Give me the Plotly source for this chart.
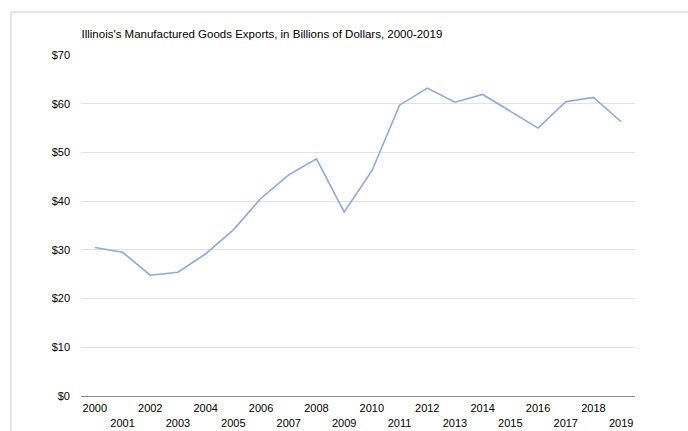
import plotly.graph_objects as go

years = [str(y) for y in range(2000, 2020)]
exports = [30.5, 29.5, 24.8, 25.4, 29.2, 34.1, 40.6, 45.4, 48.7, 37.8,
           46.2, 59.7, 63.2, 60.3, 61.9, 58.5, 55.0, 60.4, 61.3, 56.3]
tick_labels = [y if i % 2 == 0 else "<br>" + y for i, y in enumerate(years)]
title_text = "Illinois's Manufactured Goods Exports, in Billions of Dollars, 2000-2019"

W, H = 688, 431
ML, MR, MT, MB = 81, 53, 55, 35
pw, ph = W - ML - MR, H - MT - MB

def px_x(p):
    return (p - ML) / pw

def px_y(p):
    return (H - MB - p) / ph

fig = go.Figure()
fig.add_trace(go.Scatter(
    x=years, y=exports, mode="lines",
    line=dict(color="#8eaadb", width=1.6),
    hoverinfo="x+y", showlegend=False,
))

fig.update_layout(
    width=W, height=H,
    margin=dict(l=ML, r=MR, t=MT, b=MB, pad=0, autoexpand=False),
    paper_bgcolor="white", plot_bgcolor="white",
    font=dict(family="Liberation Sans, Arial, sans-serif", size=11, color="#000"),
    title=dict(text=title_text, x=81.5 / W, xanchor="left", xref="container",
               y=1 - 34 / H, yanchor="middle", yref="container",
               font=dict(size=11.5, color="#000")),
    xaxis=dict(type="category", range=[-0.5, 19.5], tickvals=years, ticktext=tick_labels,
               showgrid=False, showline=True, linecolor="#8c8c8c", linewidth=1,
               ticks="", tickfont=dict(size=11), ticklabelstandoff=2, fixedrange=True,
               automargin=False),
    yaxis=dict(range=[0, 70], dtick=10, tickprefix="$", showgrid=True,
               gridcolor="#e3e3e3", gridwidth=1, zeroline=False, showline=False,
               ticks="", tickfont=dict(size=11), ticklabelstandoff=10, fixedrange=True,
               automargin=False),
    shapes=[
        dict(type="line", xref="paper", yref="paper", x0=px_x(11), x1=px_x(W + 5),
             y0=px_y(12), y1=px_y(12), line=dict(color="#cccccc", width=1)),
        dict(type="line", xref="paper", yref="paper", x0=px_x(11), x1=px_x(11),
             y0=px_y(12), y1=px_y(H + 5), line=dict(color="#cccccc", width=1)),
    ],
)

fig.write_html(
    "out.html",
    config={"displayModeBar": False},
    post_script="document.body.style.margin='0';document.body.style.overflow='hidden';",
)
